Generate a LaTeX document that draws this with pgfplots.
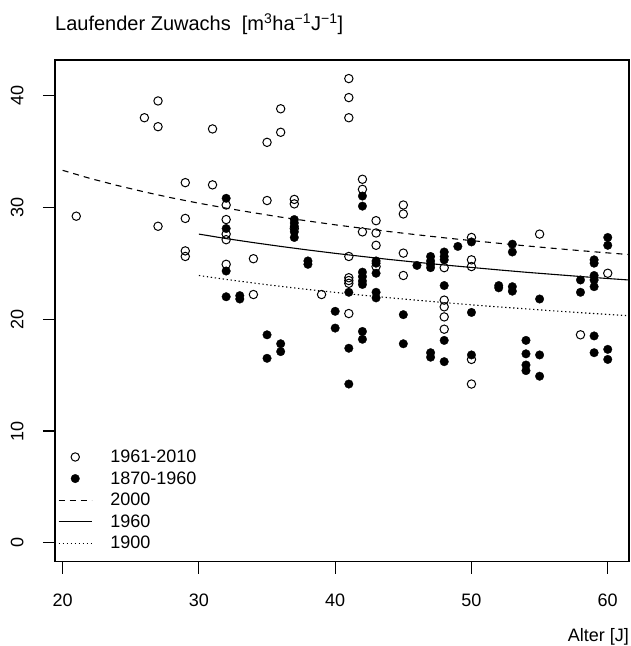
\documentclass[border=0pt]{standalone}
\usepackage{fontspec}
\setmainfont{Liberation Sans}
\usepackage{pgfplots}
\pgfplotsset{compat=1.18}
\pgfplotsset{
  linelegend/.style={legend image code/.code={\draw[##1] (0pt,0pt) -- (33pt,0pt);}},
  marklegend/.style={legend image code/.code={\draw[mark repeat=2,mark phase=2,##1] plot coordinates {(0pt,0pt) (16.5pt,0pt) (33pt,0pt)};}},
}
\begin{document}
\begin{tikzpicture}
\path[use as bounding box] (-55pt,-84.5pt) rectangle (575pt,561.5pt);
\begin{axis}[
  at={(0pt,0pt)}, anchor=south west,
  scale only axis, width=574pt, height=501.5pt,
  xmin=19.44, xmax=61.56, ymin=-1.66, ymax=43.16,
  xtick={20,30,40,50,60}, ytick={0,10,20,30,40},
  tick align=outside, major tick length=12pt,
  tick pos=left,
  axis line style={line width=1.1pt},
  every tick/.style={line width=1.1pt, black},
  every tick label/.append style={font=\fontsize{18}{21}\selectfont},
  /pgf/number format/assume math mode=true,
  xticklabel shift=17pt,
  yticklabel shift=16pt,
  yticklabel style={rotate=90, anchor=south},
  title={Laufender Zuwachs\ \ [m\textsuperscript{3}ha\textsuperscript{−1}J\textsuperscript{−1}]},
  title style={at={(axis description cs:0,1)}, anchor=base west, yshift=23pt, inner sep=0pt, font=\fontsize{20}{23}\selectfont},
  xlabel={Alter [J]},
  xlabel style={at={(axis description cs:1,0)}, anchor=base east, yshift=-79.5pt, inner sep=0pt, font=\fontsize{18}{21}\selectfont},
  legend style={draw=none, fill=none, at={(axis description cs:0,0)}, anchor=south west, xshift=3pt, yshift=9pt, inner sep=0pt, row sep=3.5pt, column sep=16pt, nodes={inner sep=2pt, anchor=west}, font=\fontsize{18}{21}\selectfont},
  legend cell align=left,
]
\addplot[only marks, mark=o, mark size=4.2pt, line width=1pt, black, marklegend]
coordinates {
(21,29.2) (26,38.0) (27,39.5) (27,37.2) (27,28.3)
(29,32.2) (29,29.0) (29,26.1) (29,25.6)
(31,37.0) (31,32.0)
(32,30.2) (32,28.9) (32,27.6) (32,27.1) (32,24.9)
(34,25.4) (34,22.2)
(35,35.8) (35,30.6)
(36,38.8) (36,36.7)
(37,30.7) (37,30.3) (37,28.1)
(39,22.2)
(41,41.5) (41,39.8) (41,38.0) (41,25.6) (41,23.7) (41,23.45) (41,23.2) (41,20.5)
(42,32.5) (42,31.6) (42,27.8)
(43,28.8) (43,27.7) (43,26.6) (43,24.7)
(45,30.2) (45,29.4) (45,25.9) (45,23.9)
(48,24.6) (48,21.7) (48,21.1) (48,20.2) (48,19.1)
(50,27.3) (50,25.3) (50,24.7) (50,16.4) (50,14.2)
(55,27.6) (58,18.6) (60,24.1)
};
\addlegendentry{1961-2010}
\addplot[only marks, mark=*, mark size=4.3pt, black, mark options={fill=black, draw=black, line width=0.3pt}, marklegend]
coordinates {
(32,30.8) (32,28.1) (32,24.3) (32,22.0)
(33,22.1) (33,21.8)
(35,18.6) (35,16.5)
(36,17.8) (36,17.1)
(37,28.9) (37,28.6) (37,28.3) (37,27.8) (37,27.3)
(38,25.2) (38,24.9)
(40,20.7) (40,19.2)
(41,22.4) (41,17.4) (41,14.2)
(42,31.0) (42,30.1) (42,24.2) (42,23.8) (42,23.4) (42,23.1) (42,18.9) (42,18.2)
(43,25.2) (43,25.0) (43,24.1) (43,22.4) (43,21.9)
(45,20.4) (45,17.8)
(46,24.8)
(47,25.6) (47,25.2) (47,24.9) (47,24.6) (47,17.0) (47,16.6)
(48,26.0) (48,25.6) (48,25.3) (48,23.0) (48,18.1) (48,16.2)
(49,26.5)
(50,26.9) (50,20.6) (50,16.8)
(52,23.0) (52,22.8)
(53,26.7) (53,26.0) (53,22.9) (53,22.5)
(54,18.1) (54,16.9) (54,15.9) (54,15.4)
(55,21.8) (55,16.8) (55,14.9)
(58,23.5) (58,22.4)
(59,25.3) (59,25.0) (59,23.9) (59,23.5) (59,22.9) (59,18.5) (59,17.0)
(60,27.3) (60,26.6) (60,17.3) (60,16.4)
};
\addlegendentry{1870-1960}
\addplot[black, line width=1.1pt, dash pattern=on 6pt off 5pt, linelegend]
coordinates {
(20,33.30) (22,32.58) (24,31.95) (26,31.37) (28,30.84) (30,30.36) (32,29.92) (34,29.51)
(36,29.12) (38,28.77) (40,28.43) (42,28.12) (44,27.82) (46,27.54) (48,27.27) (50,27.02)
(52,26.78) (54,26.55) (56,26.33) (58,26.12) (60,25.92) (62,25.73)
};
\addlegendentry{2000}
\addplot[black, line width=1.1pt, linelegend]
coordinates {
(30,27.60) (32,27.20) (34,26.84) (36,26.50) (38,26.18) (40,25.88) (42,25.60) (44,25.33)
(46,25.08) (48,24.84) (50,24.62) (52,24.40) (54,24.19) (56,24.00) (58,23.81) (60,23.63) (62,23.46)
};
\addlegendentry{1960}
\addplot[black, line width=1.1pt, dash pattern=on 1.3pt off 2.7pt, linelegend]
coordinates {
(30,23.90) (32,23.55) (34,23.23) (36,22.93) (38,22.65) (40,22.39) (42,22.14) (44,21.91)
(46,21.69) (48,21.48) (50,21.28) (52,21.09) (54,20.92) (56,20.74) (58,20.58) (60,20.42) (62,20.27)
};
\addlegendentry{1900}
\end{axis}
\end{tikzpicture}
\end{document}
